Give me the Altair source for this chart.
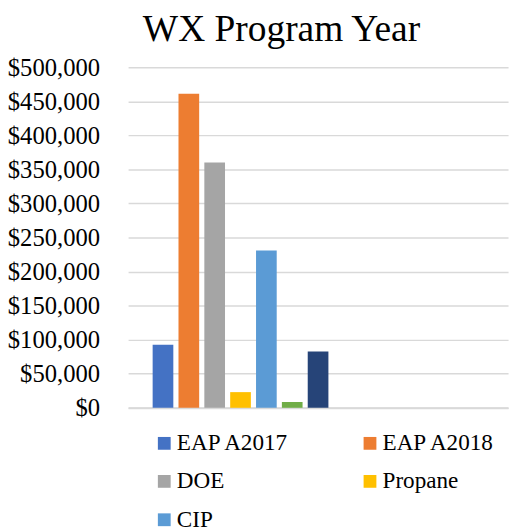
import altair as alt
import pandas as pd

# Data
series = ["EAP A2017", "EAP A2018", "DOE", "Propane", "CIP", "Series 6", "Series 7"]
values = [92500, 461000, 360000, 23000, 231000, 8500, 82500]
colors = ["#4472C4", "#ED7D31", "#A5A5A5", "#FFC000", "#5B9BD5", "#70AD47", "#264478"]
legend_shown = ["EAP A2017", "EAP A2018", "DOE", "Propane", "CIP"]
slots = list(range(13))  # the cluster has room for 13 series; only 7 carry values

df = pd.DataFrame({"series": series, "value": values, "slot": list(range(len(series)))})

FONT = "Liberation Serif"

chart = alt.Chart(df).mark_bar().encode(
    x=alt.X("slot:O",
            scale=alt.Scale(domain=slots, paddingInner=0.2, paddingOuter=0.95),
            axis=alt.Axis(title=None, labels=False, ticks=False, domain=True,
                          domainColor="#D9D9D9", domainWidth=2, grid=False)),
    y=alt.Y("value:Q",
            scale=alt.Scale(domain=[0, 500000], nice=False),
            axis=alt.Axis(title=None, format="$,.0f", values=list(range(0, 500001, 50000)),
                          ticks=False, domain=False, labelPadding=29,
                          labelFont=FONT, labelFontSize=25, labelColor="#000000",
                          gridColor="#D9D9D9", gridWidth=1.5)),
    color=alt.Color("series:N",
                    scale=alt.Scale(domain=series, range=colors),
                    legend=alt.Legend(title=None, values=legend_shown, orient="none",
                                      legendX=25, legendY=370, columns=2,
                                      direction="horizontal",
                                      symbolType="square", symbolSize=169,
                                      symbolStrokeWidth=0, symbolOffset=0,
                                      labelFont=FONT, labelFontSize=23.5,
                                      labelColor="#000000", labelOffset=1,
                                      columnPadding=70, rowPadding=14,
                                      labelLimit=300)),
).properties(
    width=386,
    height=346,
    title=alt.TitleParams("WX Program Year", font=FONT, fontSize=38,
                          fontWeight="normal", color="#000000",
                          anchor="start", frame="group", dx=15,
                          offset=0, baseline="top", dy=-7),
    autosize=alt.AutoSizeParams(type="none"),
    padding={"left": 122, "top": 56, "right": 3, "bottom": 120},
).configure_view(stroke=None)

chart.save("out.html", embed_options={"renderer": "svg", "actions": False})
